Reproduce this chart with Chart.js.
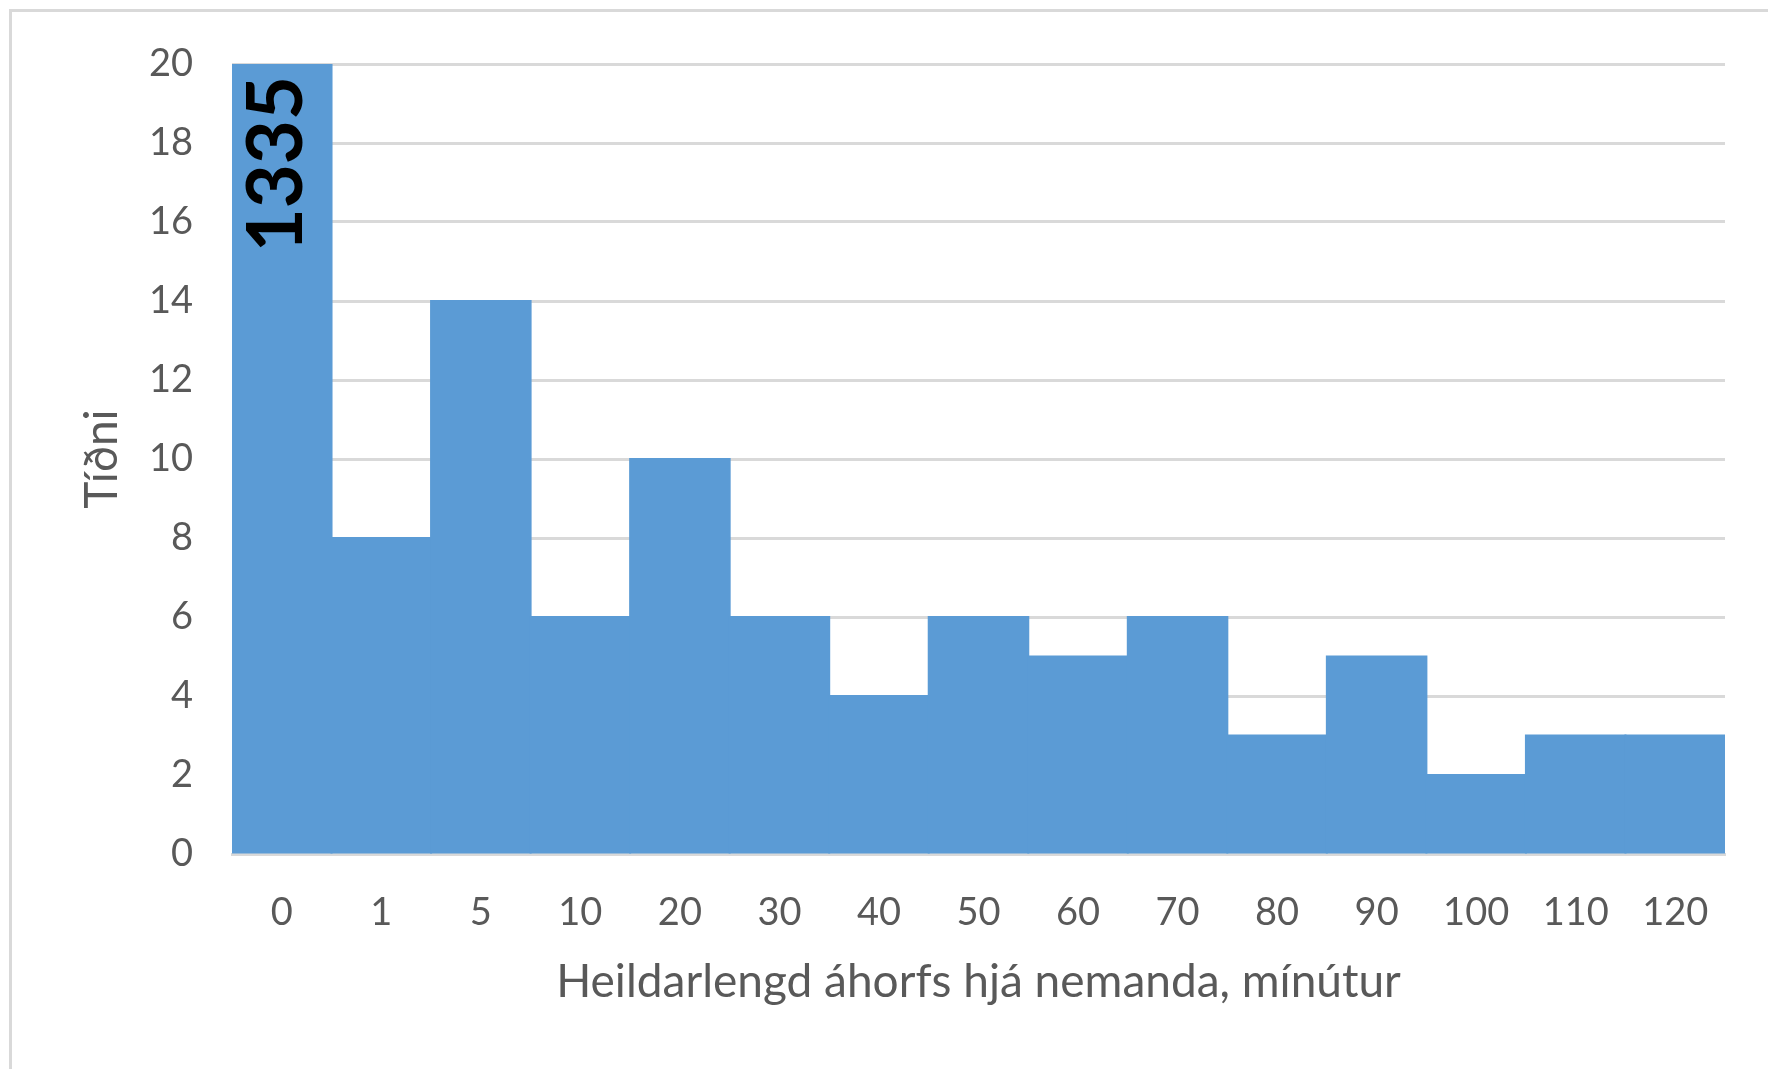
<!DOCTYPE html>
<html>
<head>
<meta charset="utf-8">
<script src="https://cdn.jsdelivr.net/npm/chart.js@4"></script>
<style>
  html, body { margin: 0; padding: 0; background: #fff; }
  #wrap { position: relative; width: 1768px; height: 1069px; overflow: hidden; }
  /* ljósgrár rammi, sést bara að ofan og vinstra megin */
  #frame { position: absolute; left: 9px; top: 9px; width: 1800px; height: 1100px;
           border-top: 3px solid #d9d9d9; border-left: 3px solid #d9d9d9; }
  canvas { position: absolute; left: 0; top: 0; }
</style>
</head>
<body>
<div id="wrap">
  <div id="frame"></div>
  <canvas id="chart" width="1768" height="1069"></canvas>
</div>
<script>
// flokkar (mínútur)
var categories = ['0', '1', '5', '10', '20', '30', '40', '50', '60', '70', '80', '90', '100', '110', '120'];
// tíðni í hverjum flokki
var counts = [1335, 8, 14, 6, 10, 6, 4, 6, 5, 6, 3, 5, 2, 3, 3];
// y ás
var yMin = 0;
var yMax = 20;
var yStep = 2;

var xTitle = 'Heildarlengd áhorfs hjá nemanda, mínútur';
var yTitle = 'Tíðni';

var axisFont = 'Lato';
var textGray = '#595959';
var gridGray = '#d9d9d9';
var barBlue = '#5b9bd5';

// skrifa gildið lóðrétt inn í súlu sem fer upp fyrir ásinn
var overflowLabel = {
    id: 'overflowLabel',
    afterDatasetsDraw: function(chart) {
        var meta = chart.getDatasetMeta(0);
        var area = chart.chartArea;
        var ctx = chart.ctx;
        meta.data.forEach(function(bar, i) {
            if (counts[i] <= yMax) return;
            ctx.save();
            ctx.translate(bar.x - 4, Math.max(bar.y, area.top) + 12);
            ctx.rotate(-Math.PI / 2);
            ctx.font = 'bold 76px ' + axisFont;
            ctx.fillStyle = '#000';
            ctx.textAlign = 'right';
            ctx.textBaseline = 'middle';
            ctx.fillText(String(counts[i]), 0, 0);
            ctx.restore();
        });
    }
};

new Chart(document.getElementById('chart'), {
    type: 'bar',
    data: {
        labels: categories,
        datasets: [{
            data: counts,
            backgroundColor: barBlue,
            borderWidth: 0,
            inflateAmount: 1,
            barPercentage: 1,
            categoryPercentage: 1
        }]
    },
    options: {
        responsive: false,
        animation: false,
        devicePixelRatio: 1,
        layout: { padding: { top: 64, right: 43, bottom: 0, left: 0 } },
        plugins: { legend: { display: false }, tooltip: { enabled: false } },
        scales: {
            x: {
                grid: { display: false, drawTicks: false },
                border: { display: true, color: gridGray, width: 3 },
                ticks: { color: textGray, font: { family: axisFont, size: 38 }, padding: 36, maxRotation: 0 },
                title: { display: true, text: xTitle, color: textGray, font: { family: axisFont, size: 46 }, padding: { top: 0, bottom: 59 } },
                afterFit: function(s) { s.height = 1069 - 854; s.paddingLeft = 0; s.paddingRight = 0; }
            },
            y: {
                min: yMin,
                max: yMax,
                grid: { color: gridGray, lineWidth: 3, drawTicks: false },
                border: { display: false },
                ticks: { stepSize: yStep, color: textGray, font: { family: axisFont, size: 38 }, padding: 39 },
                title: { display: true, text: yTitle, color: textGray, font: { family: axisFont, size: 46 }, padding: { top: 75, bottom: 0 } },
                afterFit: function(s) { s.width = 232; s.paddingTop = 0; s.paddingBottom = 0; }
            }
        }
    },
    plugins: [overflowLabel]
});
</script>
</body>
</html>
